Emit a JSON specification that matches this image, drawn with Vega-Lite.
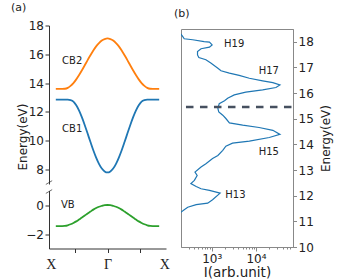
{
  "$schema": "https://vega.github.io/schema/vega-lite/v6.json",
  "autosize": "none",
  "padding": {"left": 49, "top": 25.5, "right": 288, "bottom": 254.5},
  "bounds": "flush",
  "spacing": 132,
  "config": {
    "view": {"stroke": null},
    "font": "DejaVu Sans",
    "axis": {"labelFont": "DejaVu Sans", "titleFont": "DejaVu Sans", "labelColor": "#222", "titleColor": "#222", "titleFontWeight": "normal", "grid": false, "domainColor": "#333", "tickColor": "#333", "labelFontSize": 12, "titleFontSize": 12, "labelOverlap": false, "labelFlush": false},
    "title": {"font": "DejaVu Sans", "fontWeight": "normal", "fontSize": 11, "color": "#222", "anchor": "start", "frame": "group"}
  },
  "datasets": {
    "bands": [
      {"band":"CB1","k":-0.91,"E":12.85},{"band":"CB1","k":-0.8,"E":12.85},{"band":"CB1","k":-0.7,"E":12.85},{"band":"CB1","k":-0.65,"E":12.82},{"band":"CB1","k":-0.6,"E":12.72},{"band":"CB1","k":-0.55,"E":12.46},{"band":"CB1","k":-0.5,"E":12.09},{"band":"CB1","k":-0.45,"E":11.62},{"band":"CB1","k":-0.4,"E":11.08},{"band":"CB1","k":-0.35,"E":10.5},{"band":"CB1","k":-0.3,"E":9.91},{"band":"CB1","k":-0.25,"E":9.34},{"band":"CB1","k":-0.2,"E":8.83},{"band":"CB1","k":-0.15,"E":8.4},{"band":"CB1","k":-0.1,"E":8.07},{"band":"CB1","k":-0.05,"E":7.87},{"band":"CB1","k":0,"E":7.8},
      {"band":"CB1","k":0.05,"E":7.87},{"band":"CB1","k":0.1,"E":8.07},{"band":"CB1","k":0.15,"E":8.4},{"band":"CB1","k":0.2,"E":8.83},{"band":"CB1","k":0.25,"E":9.34},{"band":"CB1","k":0.3,"E":9.91},{"band":"CB1","k":0.35,"E":10.5},{"band":"CB1","k":0.4,"E":11.08},{"band":"CB1","k":0.45,"E":11.62},{"band":"CB1","k":0.5,"E":12.09},{"band":"CB1","k":0.55,"E":12.46},{"band":"CB1","k":0.6,"E":12.72},{"band":"CB1","k":0.65,"E":12.82},{"band":"CB1","k":0.7,"E":12.85},{"band":"CB1","k":0.8,"E":12.85},{"band":"CB1","k":0.91,"E":12.85},
      {"band":"CB2","k":-0.91,"E":13.6},{"band":"CB2","k":-0.8,"E":13.6},{"band":"CB2","k":-0.75,"E":13.61},{"band":"CB2","k":-0.7,"E":13.67},{"band":"CB2","k":-0.65,"E":13.81},{"band":"CB2","k":-0.6,"E":14.0},{"band":"CB2","k":-0.55,"E":14.26},{"band":"CB2","k":-0.5,"E":14.56},{"band":"CB2","k":-0.45,"E":14.89},{"band":"CB2","k":-0.4,"E":15.24},{"band":"CB2","k":-0.35,"E":15.6},{"band":"CB2","k":-0.3,"E":15.94},{"band":"CB2","k":-0.25,"E":16.27},{"band":"CB2","k":-0.2,"E":16.55},{"band":"CB2","k":-0.15,"E":16.78},{"band":"CB2","k":-0.1,"E":16.96},{"band":"CB2","k":-0.05,"E":17.06},{"band":"CB2","k":0,"E":17.1},
      {"band":"CB2","k":0.05,"E":17.06},{"band":"CB2","k":0.1,"E":16.96},{"band":"CB2","k":0.15,"E":16.78},{"band":"CB2","k":0.2,"E":16.55},{"band":"CB2","k":0.25,"E":16.27},{"band":"CB2","k":0.3,"E":15.94},{"band":"CB2","k":0.35,"E":15.6},{"band":"CB2","k":0.4,"E":15.24},{"band":"CB2","k":0.45,"E":14.89},{"band":"CB2","k":0.5,"E":14.56},{"band":"CB2","k":0.55,"E":14.26},{"band":"CB2","k":0.6,"E":14.0},{"band":"CB2","k":0.65,"E":13.81},{"band":"CB2","k":0.7,"E":13.67},{"band":"CB2","k":0.75,"E":13.61},{"band":"CB2","k":0.8,"E":13.6},{"band":"CB2","k":0.91,"E":13.6},
      {"band":"VB","k":-0.91,"E":-1.45},{"band":"VB","k":-0.8,"E":-1.45},{"band":"VB","k":-0.75,"E":-1.44},{"band":"VB","k":-0.7,"E":-1.4},{"band":"VB","k":-0.65,"E":-1.33},{"band":"VB","k":-0.6,"E":-1.24},{"band":"VB","k":-0.55,"E":-1.13},{"band":"VB","k":-0.5,"E":-1.0},{"band":"VB","k":-0.45,"E":-0.87},{"band":"VB","k":-0.4,"E":-0.73},{"band":"VB","k":-0.35,"E":-0.58},{"band":"VB","k":-0.3,"E":-0.45},{"band":"VB","k":-0.25,"E":-0.32},{"band":"VB","k":-0.2,"E":-0.21},{"band":"VB","k":-0.15,"E":-0.12},{"band":"VB","k":-0.1,"E":-0.06},{"band":"VB","k":-0.05,"E":-0.01},{"band":"VB","k":0,"E":0.0},
      {"band":"VB","k":0.05,"E":-0.01},{"band":"VB","k":0.1,"E":-0.06},{"band":"VB","k":0.15,"E":-0.12},{"band":"VB","k":0.2,"E":-0.21},{"band":"VB","k":0.25,"E":-0.32},{"band":"VB","k":0.3,"E":-0.45},{"band":"VB","k":0.35,"E":-0.58},{"band":"VB","k":0.4,"E":-0.73},{"band":"VB","k":0.45,"E":-0.87},{"band":"VB","k":0.5,"E":-1.0},{"band":"VB","k":0.55,"E":-1.13},{"band":"VB","k":0.6,"E":-1.24},{"band":"VB","k":0.65,"E":-1.33},{"band":"VB","k":0.7,"E":-1.4},{"band":"VB","k":0.75,"E":-1.44},{"band":"VB","k":0.8,"E":-1.45},{"band":"VB","k":0.91,"E":-1.45}
    ],
    "bandLabels": [
      {"t":"CB2","k":-0.8,"E":15.57},{"t":"CB1","k":-0.8,"E":10.85},{"t":"VB","k":-0.82,"E":0.0}
    ],
    "spec": [
      {"E":18.35,"I":178},{"E":18.3,"I":203},{"E":18.21,"I":221},{"E":18.12,"I":240},{"E":18.08,"I":372},{"E":18.01,"I":676},{"E":17.99,"I":891},{"E":17.88,"I":1023},{"E":17.79,"I":891},{"E":17.73,"I":575},{"E":17.62,"I":479},{"E":17.49,"I":479},{"E":17.39,"I":513},{"E":17.3,"I":741},{"E":17.17,"I":955},{"E":16.97,"I":1380},{"E":16.87,"I":1622},{"E":16.78,"I":2512},{"E":16.69,"I":4169},{"E":16.58,"I":7079},{"E":16.48,"I":14125},{"E":16.41,"I":23988},{"E":16.32,"I":34674},{"E":16.22,"I":28184},{"E":16.13,"I":14125},{"E":16.04,"I":5888},{"E":15.93,"I":3236},{"E":15.8,"I":2291},{"E":15.7,"I":1950},{"E":15.59,"I":1479},{"E":15.4,"I":1380},{"E":15.27,"I":1445},{"E":15.14,"I":1778},{"E":15.01,"I":2089},{"E":14.84,"I":2512},{"E":14.75,"I":5012},{"E":14.66,"I":11749},{"E":14.55,"I":23988},{"E":14.39,"I":34674},{"E":14.27,"I":19953},{"E":14.13,"I":7079},{"E":14.05,"I":2951},{"E":13.93,"I":2089},{"E":13.77,"I":1778},{"E":13.57,"I":1380},{"E":13.45,"I":1047},{"E":13.25,"I":741},{"E":13.12,"I":575},{"E":12.92,"I":420},{"E":12.79,"I":470},{"E":12.6,"I":407},{"E":12.47,"I":339},{"E":12.36,"I":447},{"E":12.27,"I":575},{"E":12.21,"I":891},{"E":12.1,"I":1549},{"E":11.84,"I":1047},{"E":11.71,"I":813},{"E":11.65,"I":447},{"E":11.55,"I":288},{"E":11.45,"I":240},{"E":11.36,"I":204},{"E":11.2,"I":150}
    ],
    "hLabels": [
      {"t":"H19","I":1900,"E":17.93},{"t":"H17","I":11500,"E":16.86},{"t":"H15","I":11500,"E":13.72},{"t":"H13","I":2030,"E":12.03}
    ]
  },
  "hconcat": [
    {
      "bounds": "flush",
      "spacing": 6,
      "vconcat": [
        {
          "width": 117,
          "height": 158.5,
          "title": {"text": "(a)", "dx": -38, "offset": 7},
          "layer": [
            {
              "data": {"name": "bands"},
              "transform": [{"filter": "datum.band != 'VB'"}],
              "mark": {"type": "line", "strokeWidth": 1.8, "interpolate": "monotone"},
              "encoding": {
                "x": {"field": "k", "type": "quantitative", "scale": {"domain": [-1.03, 1.03], "nice": false, "zero": false}, "axis": null},
                "y": {"field": "E", "type": "quantitative", "scale": {"domain": [7, 18], "nice": false, "zero": false},
                      "axis": {"values": [8, 10, 12, 14, 16, 18], "tickCount": 1000, "format": "d", "labelOverlap": false, "title": "Energy(eV)", "titleX": -22.5, "titleY": 111, "titleAngle": -90, "titleBaseline": "alphabetic", "titleAlign": "center", "tickSize": 4, "labelPadding": 1.5}},
                "color": {"field": "band", "type": "nominal", "scale": {"domain": ["CB1", "CB2", "VB"], "range": ["#1f77b4", "#ff7f0e", "#2ca02c"]}, "legend": null}
              }
            },
            {
              "data": {"name": "bandLabels"},
              "transform": [{"filter": "datum.t != 'VB'"}],
              "mark": {"type": "text", "align": "left", "baseline": "middle", "fontSize": 10, "color": "#222"},
              "encoding": {
                "x": {"field": "k", "type": "quantitative"},
                "y": {"field": "E", "type": "quantitative"},
                "text": {"field": "t"}
              }
            },
            {
              "data": {"values": [{"k": -1.03, "E": 7.1}]},
              "mark": {"type": "point", "shape": "M-1,0.6L1,-0.6", "size": 40, "filled": false, "stroke": "#333", "strokeWidth": 1},
              "encoding": {
                "x": {"field": "k", "type": "quantitative"},
                "y": {"field": "E", "type": "quantitative"}
              }
            }
          ]
        },
        {
          "width": 117,
          "height": 58,
          "layer": [
            {
              "data": {"name": "bands"},
              "transform": [{"filter": "datum.band == 'VB'"}],
              "mark": {"type": "line", "strokeWidth": 1.8, "interpolate": "monotone"},
              "encoding": {
                "x": {"field": "k", "type": "quantitative", "scale": {"domain": [-1.03, 1.03], "nice": false, "zero": false},
                      "axis": {"values": [-1, -0.57, 0, 0.57, 1], "tickCount": 1000, "labelOverlap": false, "title": null, "labelExpr": "abs(datum.value) > 0.9 ? 'X' : (datum.value == 0 ? 'Γ' : '')", "labelFont": "Liberation Serif", "labelFontSize": 14, "labelBaseline": "alphabetic", "labelPadding": 16, "tickSize": 4,
                               "tickOpacity": {"condition": {"test": "abs(datum.value) > 0.9", "value": 0}, "value": 1}}},
                "y": {"field": "E", "type": "quantitative", "scale": {"domain": [-3, 1], "nice": false, "zero": false},
                      "axis": {"values": [-2, 0], "tickCount": 1000, "format": "d", "labelOverlap": false, "title": null, "tickSize": 4, "labelPadding": 1.5}},
                "color": {"field": "band", "type": "nominal", "scale": {"domain": ["CB1", "CB2", "VB"], "range": ["#1f77b4", "#ff7f0e", "#2ca02c"]}, "legend": null}
              }
            },
            {
              "data": {"name": "bandLabels"},
              "transform": [{"filter": "datum.t == 'VB'"}],
              "mark": {"type": "text", "align": "left", "baseline": "middle", "fontSize": 10, "color": "#222"},
              "encoding": {
                "x": {"field": "k", "type": "quantitative"},
                "y": {"field": "E", "type": "quantitative"},
                "text": {"field": "t"}
              }
            },
            {
              "data": {"values": [{"k": -1.03, "E": 0.93}]},
              "mark": {"type": "point", "shape": "M-1,0.6L1,-0.6", "size": 40, "filled": false, "stroke": "#333", "strokeWidth": 1},
              "encoding": {
                "x": {"field": "k", "type": "quantitative"},
                "y": {"field": "E", "type": "quantitative"}
              }
            }
          ]
        }
      ]
    },
    {
      "bounds": "flush",
      "spacing": 2.5,
      "vconcat": [
        {
          "width": 112,
          "height": 1,
          "data": {"values": [{}]},
          "mark": {"type": "rule", "opacity": 0},
          "encoding": {}
        },
        {
          "width": 112,
          "height": 218,
          "view": {"stroke": "#888", "strokeWidth": 1},
          "title": {"text": "(b)", "dx": -7, "offset": 10},
          "layer": [
            {
              "data": {"name": "spec"},
              "mark": {"type": "line", "strokeWidth": 1.2, "color": "#1f77b4", "clip": true},
              "encoding": {
                "x": {"field": "I", "type": "quantitative", "scale": {"type": "log", "domain": [203, 68400], "nice": false},
                      "axis": {"values": [200, 300, 400, 500, 600, 700, 800, 900, 1000, 2000, 3000, 4000, 5000, 6000, 7000, 8000, 9000, 10000, 20000, 30000, 40000, 50000, 60000],
                               "tickCount": 1000, "labelOverlap": false,
                               "labelExpr": "datum.value == 1000 ? '10³' : (datum.value == 10000 ? '10⁴' : '')",
                               "tickSize": {"condition": {"test": "datum.value == 1000 || datum.value == 10000", "value": 4}, "value": 2},
                               "labelBaseline": "alphabetic", "labelPadding": 11, "domainColor": "#888", "tickColor": "#888",
                               "title": "I(arb.unit)", "titleBaseline": "alphabetic", "titleY": 29, "titleFontSize": 13.5}},
                "y": {"field": "E", "type": "quantitative", "scale": {"domain": [10, 18.5], "nice": false, "zero": false},
                      "axis": {"orient": "right", "values": [10, 11, 12, 13, 14, 15, 16, 17, 18], "tickCount": 1000, "format": "d", "labelOverlap": false, "tickSize": 3.5, "labelPadding": 1.5, "domainColor": "#888", "tickColor": "#888",
                               "title": "Energy(eV)", "titleAngle": -90, "titleX": 36, "titleY": 109, "titleBaseline": "alphabetic", "titleAlign": "center"}},
                "order": {"field": "E", "type": "quantitative", "sort": "descending"}
              }
            },
            {
              "data": {"values": [{}]},
              "mark": {"type": "rule", "strokeWidth": 2.5, "strokeDash": [7.5, 6.5], "color": "#46505f"},
              "encoding": {
                "x": {"datum": 263, "type": "quantitative"},
                "x2": {"datum": 66000},
                "y": {"datum": 15.46, "type": "quantitative"}
              }
            },
            {
              "data": {"name": "hLabels"},
              "mark": {"type": "text", "align": "left", "baseline": "middle", "fontSize": 10, "color": "#222"},
              "encoding": {
                "x": {"field": "I", "type": "quantitative"},
                "y": {"field": "E", "type": "quantitative"},
                "text": {"field": "t"}
              }
            }
          ]
        }
      ]
    }
  ]
}
